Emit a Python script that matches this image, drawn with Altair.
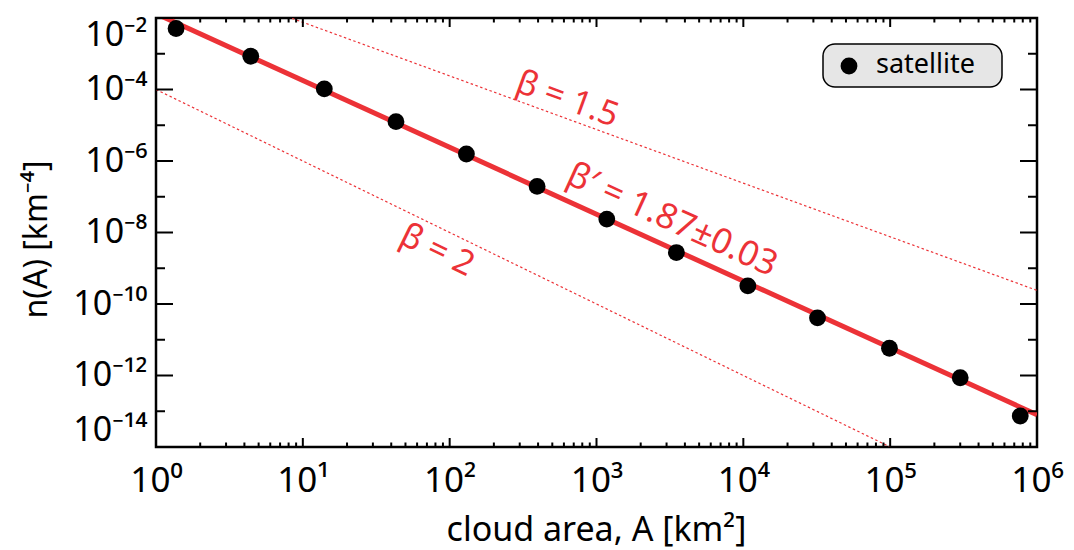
import altair as alt
import pandas as pd

# ---- data ----
area = [1.37, 4.42, 14.0, 43.1, 130, 394, 1175, 3500, 10730, 32000, 98900, 300000, 769000]
density = [5.08e-3, 8.51e-4, 1.04e-4, 1.26e-5, 1.57e-6, 1.95e-7, 2.37e-8,
           2.75e-9, 3.21e-10, 4.08e-11, 5.78e-12, 8.67e-13, 7.35e-14]
series_name = "satellite"

fit_area = [1.0, 1.0e6]
fit_density = [1.32e-2, 7.98e-14]
b15_area = [1.0, 1.0e6]
b15_density = [2.4e-1, 2.4e-10]
b2_area = [1.0, 1.0e5]
b2_density = [1.0e-4, 1.0e-14]

ann_text = ["β = 1.5", "β′ = 1.87±0.03", "β = 2"]
ann_area = [631, 3273, 82]
ann_density = [5.2e-5, 2.27e-8, 3.07e-9]
ann_angle = [20, 24.5, 26]
ann_size = [34, 35, 34]

x_major = [1, 10, 100, 1e3, 1e4, 1e5, 1e6]
x_labels = ["10⁰", "10¹", "10²", "10³", "10⁴", "10⁵", "10⁶"]
x_minor = [m * d for d in x_major[:-1] for m in range(2, 10)]
y_major = [1e-2, 1e-4, 1e-6, 1e-8, 1e-10, 1e-12, 1e-14]
y_labels = ["10⁻²", "10⁻⁴", "10⁻⁶", "10⁻⁸", "10⁻¹⁰", "10⁻¹²", "10⁻¹⁴"]
y_minor = [1e-3, 1e-5, 1e-7, 1e-9, 1e-11, 1e-13]

W, H = 881, 429
RED = "#ec3237"
FONT = "Noto Sans"

xs = alt.Scale(type="log", domain=[1, 1e6], nice=False)
ys = alt.Scale(type="log", domain=[1e-14, 1e-2], nice=False)

x_label_expr = "[" + ",".join("'%s'" % s for s in x_labels) + "][round(log(datum.value)/LN10)]"
y_label_expr = "[" + ",".join("'%s'" % s for s in y_labels) + "][round((-2 - log(datum.value)/LN10)/2)]"

x_axis = alt.Axis(values=x_major, labelExpr=x_label_expr, ticks=False, domain=False, grid=False,
                  labelFont=FONT, labelFontSize=35, labelColor="black", labelPadding=16,
                  labelOverlap=False, labelFlush=False,
                  title="cloud area, A [km²]", titleFont=FONT, titleFontSize=34,
                  titleFontWeight="normal", titleColor="black",
                  titleX=440, titleY=93, titleAlign="center", titleBaseline="alphabetic")
y_axis = alt.Axis(values=y_major, labelExpr=y_label_expr, ticks=False, domain=False, grid=False,
                  labelFont=FONT, labelFontSize=34, labelColor="black", labelPadding=9,
                  labelOverlap=False, labelFlush=True,
                  title="n(A) [km⁻⁴]", titleFont=FONT, titleFontSize=32,
                  titleFontWeight="normal", titleColor="black", titleAngle=-90,
                  titleX=-120, titleY=221, titleAlign="center", titleBaseline="middle")

X = lambda: alt.X("A:Q", scale=xs, axis=x_axis)
Y = lambda: alt.Y("n:Q", scale=ys, axis=y_axis)

pts = pd.DataFrame({"A": area, "n": density})
fit = pd.DataFrame({"A": fit_area, "n": fit_density})
b15 = pd.DataFrame({"A": b15_area, "n": b15_density})
b2 = pd.DataFrame({"A": b2_area, "n": b2_density})
ann = pd.DataFrame({"A": ann_area, "n": ann_density, "label": ann_text, "ang": ann_angle, "fs": ann_size})
leg = pd.DataFrame({"label": [series_name]})

dotted = lambda df: alt.Chart(df).mark_line(color=RED, strokeWidth=1.2, strokeDash=[2.5, 2.5], clip=True).encode(x=X(), y=Y())

fit_line = alt.Chart(fit).mark_line(color=RED, strokeWidth=5, clip=True).encode(x=X(), y=Y())

texts = alt.Chart(ann).mark_text(color=RED, font=FONT, align="center", baseline="middle").encode(
    x=X(), y=Y(), text="label:N", angle=alt.Angle("ang:Q", scale=None),
    size=alt.Size("fs:Q", scale=None))

points = alt.Chart(pts).mark_point(filled=True, size=283, opacity=1, shape="circle", color="black").encode(
    x=X(), y=Y())

# legend box (drawn by hand so its shape matches the reference)
leg_box = alt.Chart(leg).mark_rect(fill="#e6e6e6", stroke="black", strokeWidth=1.5, cornerRadius=12).encode(
    x=alt.value(667), x2=alt.value(846), y=alt.value(26), y2=alt.value(69))
leg_dot = alt.Chart(leg).mark_point(filled=True, size=283, opacity=1, shape="circle", color="black").encode(
    x=alt.value(693), y=alt.value(48))
leg_txt = alt.Chart(leg).mark_text(font=FONT, fontSize=27, color="black", align="left", baseline="middle").encode(
    x=alt.value(720), y=alt.value(47), text="label:N")

def xticks(vals, L, top):
    df = pd.DataFrame({"A": vals})
    if top:
        return alt.Chart(df).mark_rule(color="black", strokeWidth=2).encode(x=X(), y=alt.value(0), y2=alt.value(L))
    return alt.Chart(df).mark_rule(color="black", strokeWidth=2).encode(x=X(), y=alt.value(H), y2=alt.value(H - L))

def yticks(vals, L, right):
    df = pd.DataFrame({"n": vals})
    if right:
        return alt.Chart(df).mark_rule(color="black", strokeWidth=2).encode(y=Y(), x=alt.value(W), x2=alt.value(W - L))
    return alt.Chart(df).mark_rule(color="black", strokeWidth=2).encode(y=Y(), x=alt.value(0), x2=alt.value(L))

ticks = [xticks(x_major, 9, False), xticks(x_minor, 4.5, False),
         xticks(x_major, 9, True), xticks(x_minor, 4.5, True),
         yticks(y_major, 17, False), yticks(y_minor, 9, False),
         yticks(y_major, 17, True), yticks(y_minor, 9, True)]

chart = alt.layer(dotted(b15), dotted(b2), fit_line, texts, points, *ticks,
                  leg_box, leg_dot, leg_txt).properties(
    width=W, height=H,
    autosize=alt.AutoSizeParams(type="none"),
    padding={"left": 156, "top": 18, "right": 1074 - 156 - W, "bottom": 550 - 18 - H},
).configure_view(stroke="black", strokeWidth=2.5)

chart.save("out.html", embed_options={"renderer": "svg", "actions": False})
